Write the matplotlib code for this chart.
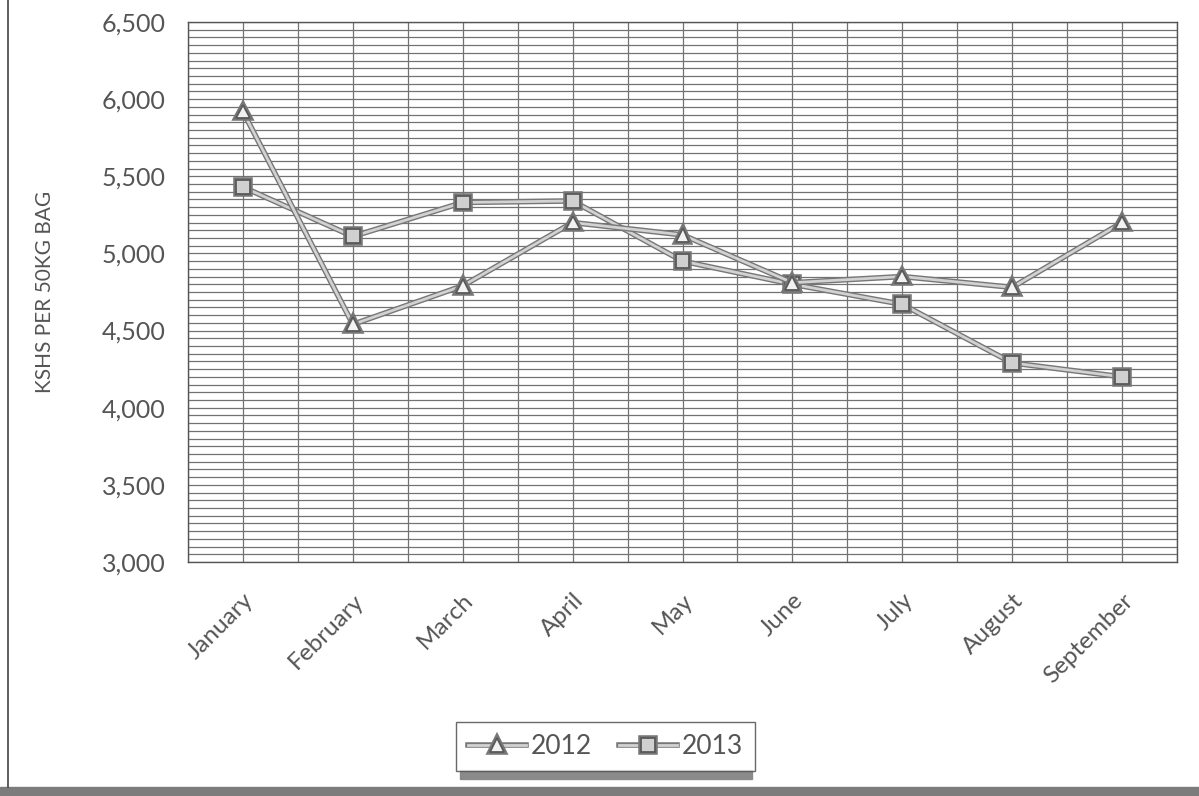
import matplotlib
matplotlib.use("Agg")
import matplotlib.pyplot as plt
import matplotlib.patheffects as pe
from matplotlib.patches import Rectangle
import numpy as np

months = ["January", "February", "March", "April", "May", "June",
          "July", "August", "September"]
prices_2012 = [5920, 4540, 4790, 5200, 5120, 4810, 4850, 4780, 5200]
prices_2013 = [5430, 5110, 5330, 5340, 4950, 4800, 4670, 4290, 4200]
y_ticks = [3000, 3500, 4000, 4500, 5000, 5500, 6000, 6500]
y_tick_labels = ["3,000", "3,500", "4,000", "4,500", "5,000", "5,500", "6,000", "6,500"]

plt.rcParams["font.family"] = ["Lato", "DejaVu Sans"]
text_color = "#555555"

fig = plt.figure(figsize=(11.99, 7.96), dpi=100)
ax = fig.add_axes([0.1568, 0.2940, 0.8249, 0.6784])

x = np.arange(len(months))

# dense horizontal grid every 50, vertical grid every half category
for yv in np.arange(3000, 6501, 50):
    ax.axhline(yv, color="#727272", lw=0.9, zorder=1)
for xv in np.arange(-0.5, len(months) - 0.5 + 0.01, 0.5):
    ax.axvline(xv, color="#727272", lw=0.9, zorder=1)

line_fx = [pe.Stroke(linewidth=4.0, foreground="#777777"), pe.Normal()]
ax.plot(x, prices_2012, color="#d2d2d2", lw=2.0, marker="^", ms=10,
        mfc="#f2f2f2", mec="#5a5a5a", mew=1.3, zorder=4,
        path_effects=line_fx, label="2012")
ax.plot(x, prices_2013, color="#d2d2d2", lw=2.0, marker="s", ms=10,
        mfc="#d0d0d0", mec="#5a5a5a", mew=1.3, zorder=3,
        path_effects=line_fx, label="2013")

ax.set_xlim(-0.5, len(months) - 0.5)
ax.set_ylim(3000, 6500)
ax.set_yticks(y_ticks)
ax.set_yticklabels(y_tick_labels, fontsize=18, color=text_color)
ax.set_xticks(x)
ax.set_xticklabels(months, rotation=45, ha="right", rotation_mode="anchor",
                   fontsize=17.5, color=text_color)
ax.tick_params(axis="y", length=0, pad=16)
ax.tick_params(axis="x", length=0, pad=20)
for s in ax.spines.values():
    s.set_color("#555555")
    s.set_linewidth(1.0)
ax.set_ylabel("KSHS PER 50KG BAG", fontsize=15, color=text_color, labelpad=34)

leg = fig.legend(loc="center", bbox_to_anchor=(0.505, 0.062), ncol=2,
                 frameon=True, fancybox=False, fontsize=19,
                 handlelength=2.2, columnspacing=1.0, handletextpad=0.2,
                 borderpad=0.45)
leg.get_frame().set_edgecolor("#444444")
leg.get_frame().set_linewidth(1.0)
for t in leg.get_texts():
    t.set_color(text_color)

# legend shadow strip and page edges
fig.patches.append(Rectangle((460 / 1199, 1 - 779 / 796), 292 / 1199, 9 / 796,
                             transform=fig.transFigure, color="#8a8a8a", zorder=0))
fig.patches.append(Rectangle((0, 0), 1, 9 / 796, transform=fig.transFigure,
                             color="#7c7c7c", zorder=0))
fig.lines.append(plt.Line2D([8 / 1199, 8 / 1199], [9 / 796, 1],
                            transform=fig.transFigure, color="#444444", lw=1.2))

fig.savefig("out.png", dpi=100)
